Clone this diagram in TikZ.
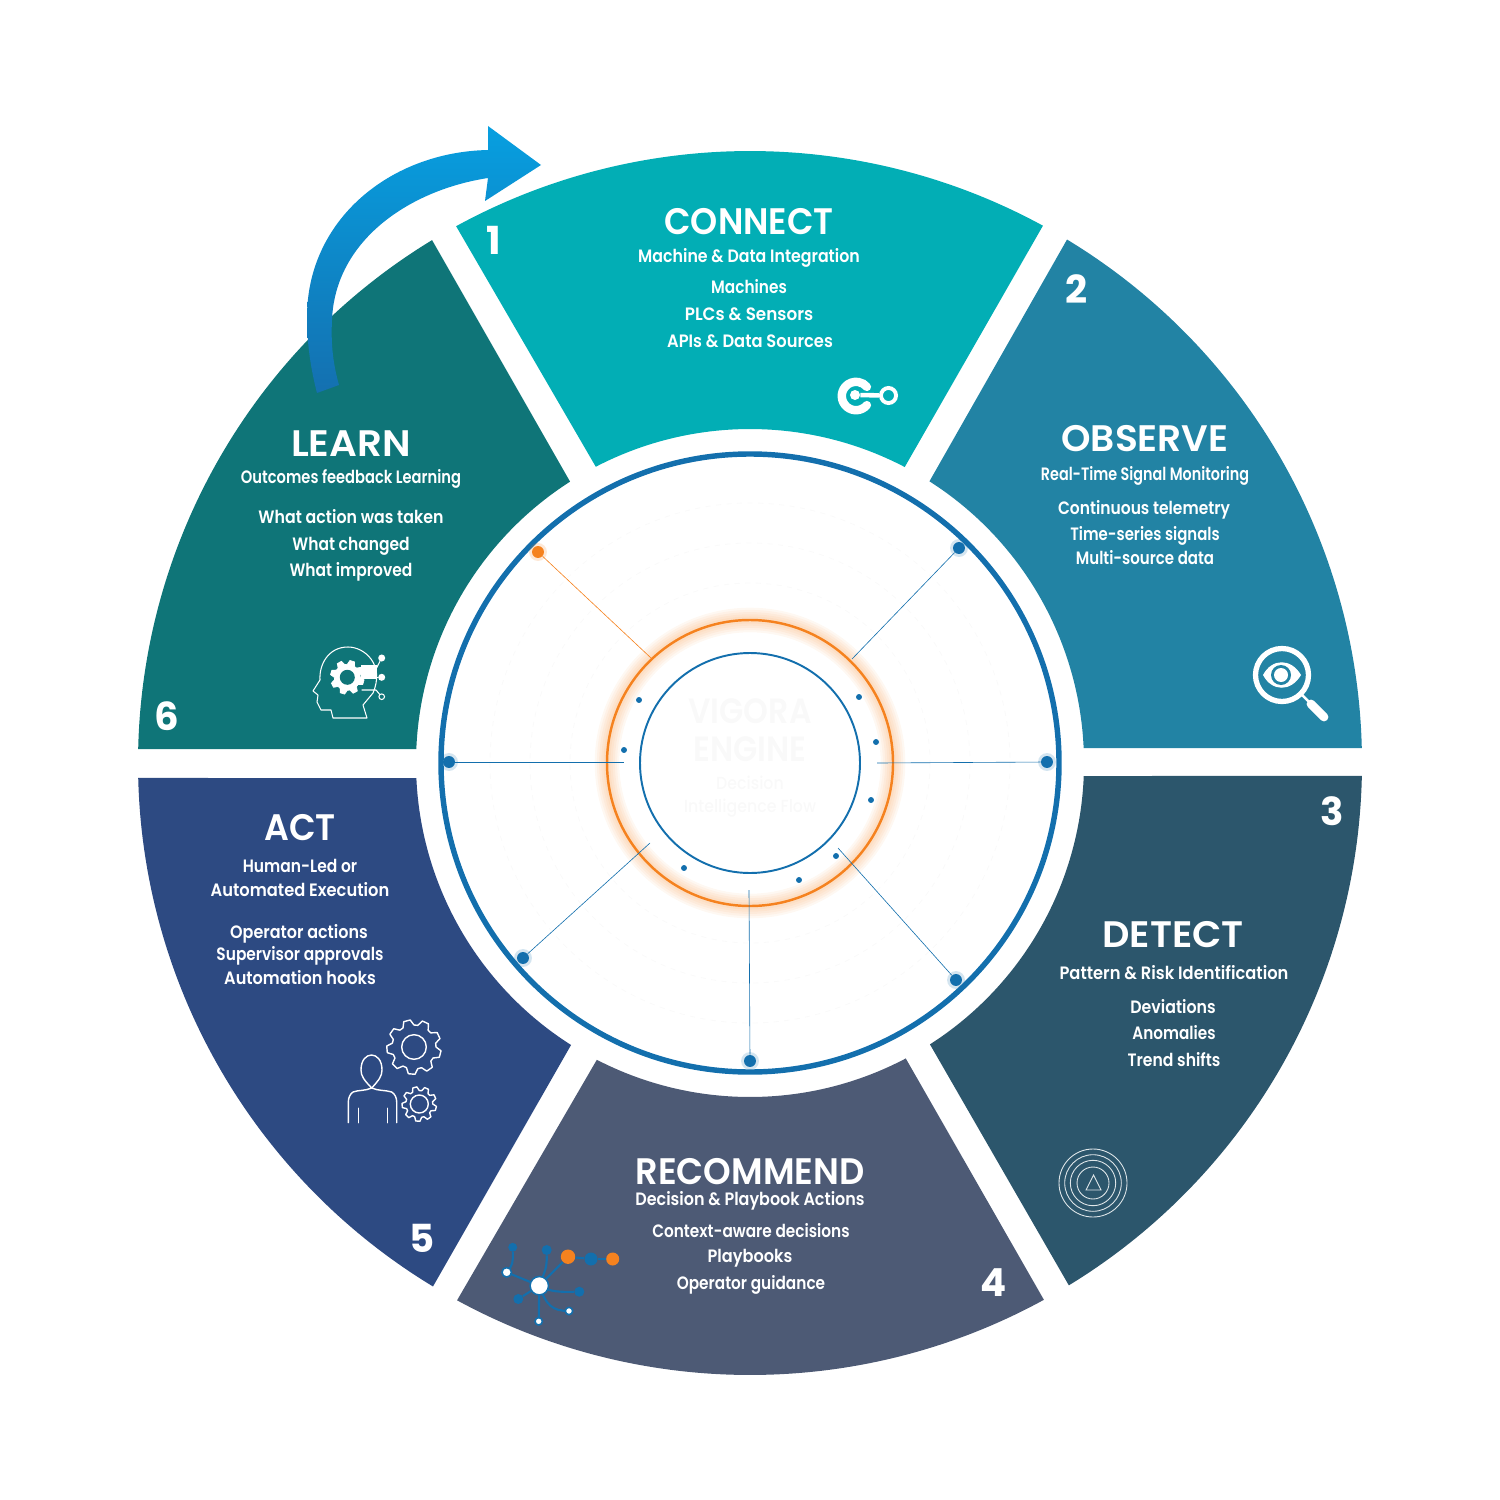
\documentclass[tikz,border=0pt]{standalone}
\usepackage{graphicx}
\usepackage{fontspec}
\setmainfont{Poppins}[UprightFont={* Medium},BoldFont={* SemiBold},FakeStretch=0.9]
\newfontfamily\numfont{Poppins}[UprightFont={* Bold}]
\definecolor{secOne}{HTML}{02AEB5}
\definecolor{secTwo}{HTML}{2283A4}
\definecolor{secThree}{HTML}{2C566C}
\definecolor{secFour}{HTML}{4D5A75}
\definecolor{secFive}{HTML}{2D4A82}
\definecolor{secSix}{HTML}{0F7578}
\definecolor{ringBlue}{HTML}{136FAD}
\definecolor{ringOrange}{HTML}{F5821F}
\definecolor{arrowTop}{HTML}{079FE0}
\definecolor{arrowLow}{HTML}{1470B0}
\tikzset{
  heading/.style={text=white, font=\bfseries\fontsize{21}{21}\selectfont, text height=15pt, text depth=0pt, inner sep=0pt},
  subline/.style={text=white, font=\bfseries\fontsize{10.2}{10.2}\selectfont, text height=7.2pt, text depth=0pt, inner sep=0pt},
  stepnum/.style={text=white, font=\numfont\fontsize{22}{22}\selectfont, text height=15.5pt, text depth=0pt, inner sep=0pt},
  hubdot/.style={circle, fill=ringBlue, minimum size=6.8pt, inner sep=0pt},
  hotdot/.style={circle, fill=ringOrange, minimum size=6.8pt, inner sep=0pt},
  tinydot/.style={circle, fill=ringBlue, minimum size=3.4pt, inner sep=0pt},
  spoke/.style={draw=ringBlue, line width=0.35pt},
  iconline/.style={draw=white, line width=0.8pt, line join=round, line cap=round},
  netblue/.style={circle, fill=ringBlue, inner sep=0pt},
  netwhite/.style={circle, fill=white, draw=ringBlue, line width=0.9pt, inner sep=0pt},
  netorange/.style={circle, fill=ringOrange, inner sep=0pt},
  netlink/.style={draw=ringBlue, line width=1.2pt}
}
% gear outline: options, x, y, tip radius, root radius, teeth
\newcommand{\gearat}[6][]{
  \begin{scope}[shift={(#2,#3)}]
    \draw[#1] (0:#5) \foreach \k in {1,...,#6} {
      -- ({(\k-1+0.2)*360/#6}:#4) -- ({(\k-1+0.55)*360/#6}:#4)
      -- ({(\k-1+0.75)*360/#6}:#5) -- ({\k*360/#6}:#5)
    } -- cycle;
  \end{scope}
}
\begin{document}
\begin{tikzpicture}[x=0.02cm, y=-0.02cm]
  \useasboundingbox (0,0) rectangle (1500,1500);

  % draw sectors
  \begin{scope}[shift={(750,763)}]
    \foreach \col/\oa/\ob/\ia/\ib in {
      secOne/-118.7/-61.4/-62.4/-117.5,
      secTwo/-58.8/-1.4/-2.56/-57.5,
      secThree/1.2/58.6/57.4/2.24,
      secFour/61.3/118.6/117.3/62.2,
      secFive/121.2/178.6/177.4/122.4,
      secSix/181.3/238.7/237.4/182.4}
      \fill[\col] (\oa:612) arc[start angle=\oa, end angle=\ob, radius=612]
        -- (\ia:334) arc[start angle=\ia, end angle=\ib, radius=334] -- cycle;
  \end{scope}

  % draw big arrow
  \shade[top color=arrowTop, bottom color=arrowLow]
    (488,150) -- (488,126) -- (541,165) -- (485,201) -- (488,178)
    .. controls (410,190) and (335,240) .. (332,320)
    .. controls (331,340) and (332,360) .. (339,385)
    -- (317,393)
    .. controls (311,370) and (307,345) .. (307,317)
    .. controls (307,220) and (390,152) .. (488,150) -- cycle;

  % draw rings
  \draw[ringBlue, line width=3.1pt] (750,763) circle[radius=309];
  \foreach \w in {14,11.5,9,6.5,4}
    \draw[ringOrange, opacity=0.06, line width=\w pt] (750,763) circle[radius=143];
  \draw[ringOrange, line width=1.4pt] (750,763) circle[radius=143];
  \draw[ringBlue, line width=1.1pt] (750,763) circle[radius=110];

  % draw faint texts in the middle
  \foreach \rad in {180,220,260}
    \draw[black!2, line width=0.5pt, dashed] (750,763) circle[radius=\rad];
  \node[text=black!2.5, font=\bfseries\fontsize{20}{22}\selectfont, align=center] (engineName) at (750,730) {VIGORA\\ENGINE};
  \node[text=black!2.5, font=\fontsize{10}{13}\selectfont, align=center] (engineNote) at (750,797) {Decision\\Intelligence Flow};

  % draw spokes
  \foreach \nm/\x/\y/\px/\py in {
    tr/959/548/852/659,
    ri/1047/762/877/763,
    br/956/980/838/848,
    bo/750/1061/749/890,
    bl/523/958/650/843,
    le/449/762/624/762} {
    \coordinate (foot\nm) at (\px,\py);
    \node[circle, fill=ringBlue, opacity=0.18, minimum size=10.2pt, inner sep=0pt] (halo\nm) at (\x,\y) {};
    \node[hubdot] (dot\nm) at (\x,\y) {};
    \draw[spoke] (dot\nm) -- (foot\nm);
  }
  \coordinate (foottl) at (651,658);
  \node[circle, fill=ringOrange, opacity=0.18, minimum size=10.2pt, inner sep=0pt] (halotl) at (538,552) {};
  \node[hotdot] (dottl) at (538,552) {};
  \draw[ringOrange, line width=0.35pt] (dottl) -- (foottl);

  % draw small dots
  \foreach \x/\y [count=\i] in {859/697,876/742,871/800,836/856,799/880,684/868,624/750,639/700}
    \node[tinydot] (tiny\i) at (\x,\y) {};

  % draw step numbers
  \node[stepnum] (numOne) at (494,241) {1};
  \node[stepnum] (numTwo) at (1077,290) {2};
  \node[stepnum] (numThree) at (1332,812) {3};
  \node[stepnum] (numFour) at (994,1283) {4};
  \node[stepnum] (numFive) at (422,1239) {5};
  \node[stepnum] (numSix) at (167,717) {6};

  % draw connect text
  \node[heading] (connectHead) at (749,221) {\scalebox{1.04}[1]{CONNECT}};
  \node[subline] (connectSub) at (749,256) {\scalebox{.98}[1]{Machine \& Data Integration}};
  \node[subline] (connectA) at (749,287) {\scalebox{.95}[1]{Machines}};
  \node[subline] (connectB) at (749,314) {\scalebox{1.04}[1]{PLCs \& Sensors}};
  \node[subline] (connectC) at (750,341) {\scalebox{1.01}[1]{APIs \& Data Sources}};

  % draw observe text
  \node[heading] (observeHead) at (1145,438) {\scalebox{1.13}[1]{OBSERVE}};
  \node[subline] (observeSub) at (1145,474) {\scalebox{.89}[1]{Real-Time Signal Monitoring}};
  \node[subline] (observeA) at (1144,508) {\scalebox{.96}[1]{Continuous telemetry}};
  \node[subline] (observeB) at (1145,534) {\scalebox{.925}[1]{Time-series signals}};
  \node[subline] (observeC) at (1145,558) {\scalebox{.93}[1]{Multi-source data}};

  % draw detect text
  \node[heading] (detectHead) at (1173,934) {\scalebox{1.15}[1]{DETECT}};
  \node[subline] (detectSub) at (1174,973) {\scalebox{1.01}[1]{Pattern \& Risk Identification}};
  \node[subline] (detectA) at (1173,1007) {\scalebox{.98}[1]{Deviations}};
  \node[subline] (detectB) at (1174,1033) {\scalebox{.945}[1]{Anomalies}};
  \node[subline] (detectC) at (1174,1060) {\scalebox{.97}[1]{Trend shifts}};

  % draw recommend text
  \node[heading] (recommendHead) at (750,1171) {\scalebox{1.06}[1]{RECOMMEND}};
  \node[subline] (recommendSub) at (750,1199) {\scalebox{.99}[1]{Decision \& Playbook Actions}};
  \node[subline] (recommendA) at (751,1231) {\scalebox{.95}[1]{Context-aware decisions}};
  \node[subline] (recommendB) at (750,1256) {Playbooks};
  \node[subline] (recommendC) at (751,1283) {\scalebox{.95}[1]{Operator guidance}};

  % draw act text
  \node[heading] (actHead) at (300,827) {\scalebox{1.045}[1]{ACT}};
  \node[subline] (actSubA) at (300,866) {\scalebox{.96}[1]{Human-Led or}};
  \node[subline] (actSubB) at (300,890) {\scalebox{1.01}[1]{Automated Execution}};
  \node[subline] (actA) at (299,932) {\scalebox{.99}[1]{Operator actions}};
  \node[subline] (actB) at (300,954) {\scalebox{.955}[1]{Supervisor approvals}};
  \node[subline] (actC) at (300,978) {Automation hooks};

  % draw learn text
  \node[heading] (learnHead) at (351,443) {\scalebox{1.17}[1]{LEARN}};
  \node[subline] (learnSub) at (351,477) {\scalebox{.91}[1]{Outcomes feedback Learning}};
  \node[subline] (learnA) at (351,517) {\scalebox{.98}[1]{What action was taken}};
  \node[subline] (learnB) at (351,544) {\scalebox{.96}[1]{What changed}};
  \node[subline] (learnC) at (351,570) {\scalebox{.96}[1]{What improved}};

  % connect icon
  \draw[white, line width=4.8pt, line cap=round] (856,396) ++(40:14.2) arc[start angle=40, end angle=320, radius=14.2];
  \node[circle, fill=white, minimum size=5.7pt, inner sep=0pt] (linkHub) at (855,395) {};
  \node[circle, draw=white, line width=2.2pt, minimum size=8.6pt, inner sep=0pt] (linkEnd) at (888.5,395.5) {};
  \draw[white, line width=2.6pt] (linkHub) -- (linkEnd);

  % observe icon
  \draw[white, line width=3pt] (1282,675) circle[radius=26.5];
  \fill[white] (1263,675) .. controls (1272,658) and (1291,658) .. (1301,675)
    .. controls (1291,692) and (1272,692) .. (1263,675) -- cycle;
  \fill[secTwo] (1281,675) circle[radius=10];
  \fill[white] (1281,675) circle[radius=7];
  \draw[white, line width=1.4pt] (1302,695) -- (1309,702);
  \draw[white, line width=5pt, line cap=round] (1311,704) -- (1324,717);

  % detect icon
  \foreach \rad in {16,22.7,28.3,34}
    \draw[white!85!secThree, line width=0.5pt] (1093,1183) circle[radius=\rad];
  \draw[white!85!secThree, line width=0.5pt] (1093.5,1175) -- (1086,1190) -- (1101,1190) -- cycle;

  % recommend icon
  \coordinate (netHubC) at (539.3,1285.7);
  \node[netblue, minimum size=5.1pt] (netA) at (512.7,1247.3) {};
  \node[netblue, minimum size=5.7pt] (netB) at (546.7,1250) {};
  \node[netblue, minimum size=5.7pt] (netC) at (518.3,1299) {};
  \node[netblue, minimum size=5.7pt] (netD) at (579.3,1291.7) {};
  \node[netblue, minimum size=7.4pt] (netE) at (591,1259) {};
  \node[netorange, minimum size=8.2pt] (netI) at (568,1256.7) {};
  \node[netorange, minimum size=7.4pt] (netJ) at (612.7,1259) {};
  \coordinate (netF) at (506.7,1272.3);
  \coordinate (netG) at (569,1311);
  \coordinate (netH) at (538.7,1321.3);
  \draw[netlink] (netHubC) -- (netI);
  \draw[netlink] (netI) -- (netE);
  \draw[netlink] (netE) -- (netJ);
  \draw[netlink] (netHubC) -- (netC);
  \draw[netlink] (netHubC) -- (netF);
  \draw[netlink] (netHubC) -- (netH);
  \draw[netlink] (netHubC) .. controls (544,1272) and (547,1270) .. (netB);
  \draw[netlink] (netF) .. controls (513,1265) and (513,1262) .. (netA);
  \draw[netlink] (netHubC) .. controls (550,1292) and (560,1292) .. (netD);
  \draw[netlink] (netHubC) .. controls (546,1305) and (552,1311) .. (netG);
  \node[netwhite, minimum size=10.5pt] (netHub) at (netHubC) {};
  \node[netwhite, minimum size=5.4pt] (netFdot) at (netF) {};
  \node[netwhite, minimum size=4.2pt] (netGdot) at (netG) {};
  \node[netwhite, minimum size=4.2pt] (netHdot) at (netH) {};

  % act icon
  \gearat[iconline]{414}{1047}{27.3}{22}{9}
  \draw[iconline] (414,1047) circle[radius=12.3];
  \gearat[iconline]{419.3}{1104}{17.3}{13.5}{9}
  \draw[iconline] (419.3,1104) circle[radius=9];
  \draw[iconline] (371.7,1088) .. controls (364,1080) and (361,1076) .. (361,1070)
    .. controls (361,1050) and (382,1050) .. (382,1070)
    .. controls (382,1076) and (379,1080) .. (371.7,1088)
    .. controls (365,1091) and (358,1090) .. (353,1092)
    .. controls (350,1094) and (348.3,1098) .. (348.3,1102) -- (348.3,1122.7);
  \draw[iconline] (371.7,1088) .. controls (378,1091) and (386,1090) .. (391.7,1092)
    .. controls (395,1094) and (396.7,1098) .. (396.7,1102) -- (396.7,1122.7);
  \draw[iconline] (358.3,1108.3) -- (358.3,1122.7);
  \draw[iconline] (387.3,1108.3) -- (387.3,1122.7);

  % learn icon
  \draw[iconline, line width=0.6pt] (367,718) -- (363,705) -- (373,693)
    .. controls (385,665) and (365,647) .. (348,647)
    .. controls (328,647) and (319,665) .. (320,680)
    -- (313,691) -- (318,695) -- (317,702) -- (321,710) -- (331,710) -- (333,718) -- cycle;
  \gearat[fill=white, draw=white, line width=0.4pt]{347.3}{677.3}{17}{13}{8}
  \fill[secSix] (347.3,677.3) circle[radius=7.5];
  \fill[white] (361,665) -- (377,665) -- (377,679) -- (361,679) -- cycle;
  \node[circle, fill=white, minimum size=4pt, inner sep=0pt] (brainA) at (381.7,658) {};
  \node[circle, fill=white, minimum size=4pt, inner sep=0pt] (brainB) at (381.7,677.3) {};
  \node[circle, draw=white, line width=0.6pt, minimum size=3.2pt, inner sep=0pt] (brainC) at (381.7,696.7) {};
  \coordinate (brainKnee) at (376,669);
  \draw[iconline, line width=0.6pt] (brainKnee) -- (brainA);
  \draw[iconline, line width=0.6pt] (brainKnee |- brainB) -- (brainB);
  \draw[iconline, line width=0.6pt] (362,690) -- (376,690) -- (brainC);
\end{tikzpicture}
\end{document}
